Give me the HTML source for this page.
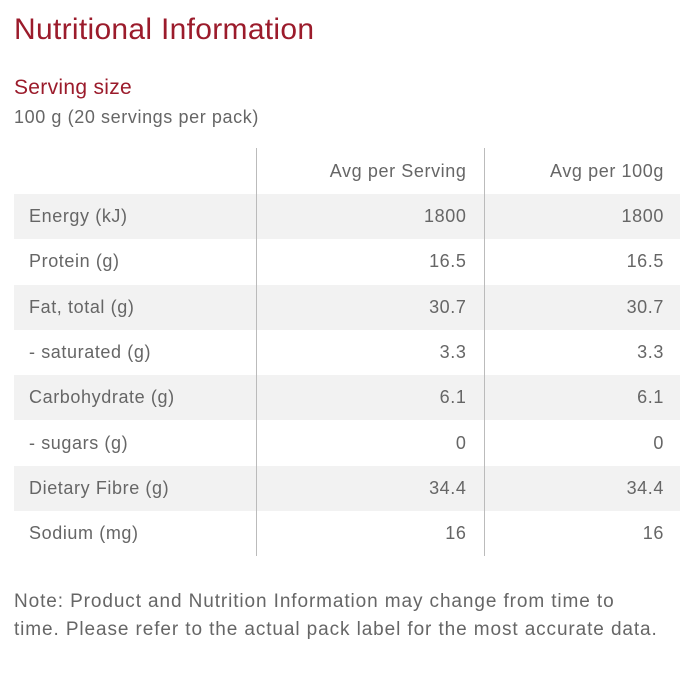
<!DOCTYPE html>
<html><head><meta charset="utf-8"><style>
body{margin:0;width:700px;height:700px;background:#fff;font-family:"Liberation Sans",sans-serif;color:#666;position:relative;overflow:hidden}
.a{position:absolute}
h1{position:absolute;left:14px;top:13px;margin:0;font-weight:normal;font-size:30px;color:#9b1b2b;font-family:"Liberation Sans",sans-serif;letter-spacing:0.3px}
table{position:absolute;left:14px;top:148px;width:666px;border-collapse:collapse;font-size:18px;letter-spacing:0.6px}
td{height:45.3px;padding:0;box-sizing:border-box}
td.l{padding-left:15px;width:242px}
td.m{text-align:right;padding-right:17px;width:228px;border-left:1px solid #bbb;border-right:1px solid #bbb}
td.r{text-align:right;padding-right:16px}
tr.g td{background:#f2f2f2}
tr.h td{height:46px}
</style></head><body>
<h1>Nutritional Information</h1>
<div class="a" style="left:14px;top:76px;font-size:21px;color:#9b1b2b;letter-spacing:0.3px">Serving size</div>
<div class="a" style="left:14px;top:107px;font-size:18px;letter-spacing:0.6px">100 g (20 servings per pack)</div>
<table>
<tr class="h"><td class="l"></td><td class="m">Avg per Serving</td><td class="r">Avg per 100g</td></tr>
<tr class="g"><td class="l">Energy (kJ)</td><td class="m">1800</td><td class="r">1800</td></tr>
<tr><td class="l">Protein (g)</td><td class="m">16.5</td><td class="r">16.5</td></tr>
<tr class="g"><td class="l">Fat, total (g)</td><td class="m">30.7</td><td class="r">30.7</td></tr>
<tr><td class="l">- saturated (g)</td><td class="m">3.3</td><td class="r">3.3</td></tr>
<tr class="g"><td class="l">Carbohydrate (g)</td><td class="m">6.1</td><td class="r">6.1</td></tr>
<tr><td class="l">- sugars (g)</td><td class="m">0</td><td class="r">0</td></tr>
<tr class="g"><td class="l">Dietary Fibre (g)</td><td class="m">34.4</td><td class="r">34.4</td></tr>
<tr><td class="l">Sodium (mg)</td><td class="m">16</td><td class="r">16</td></tr>
</table>
<div class="a" style="left:14px;top:588px;width:648px;font-size:19px;line-height:28px;letter-spacing:0.9px">Note: Product and Nutrition Information may change from time to time. Please refer to the actual pack label for the most accurate data.</div>
</body></html>
